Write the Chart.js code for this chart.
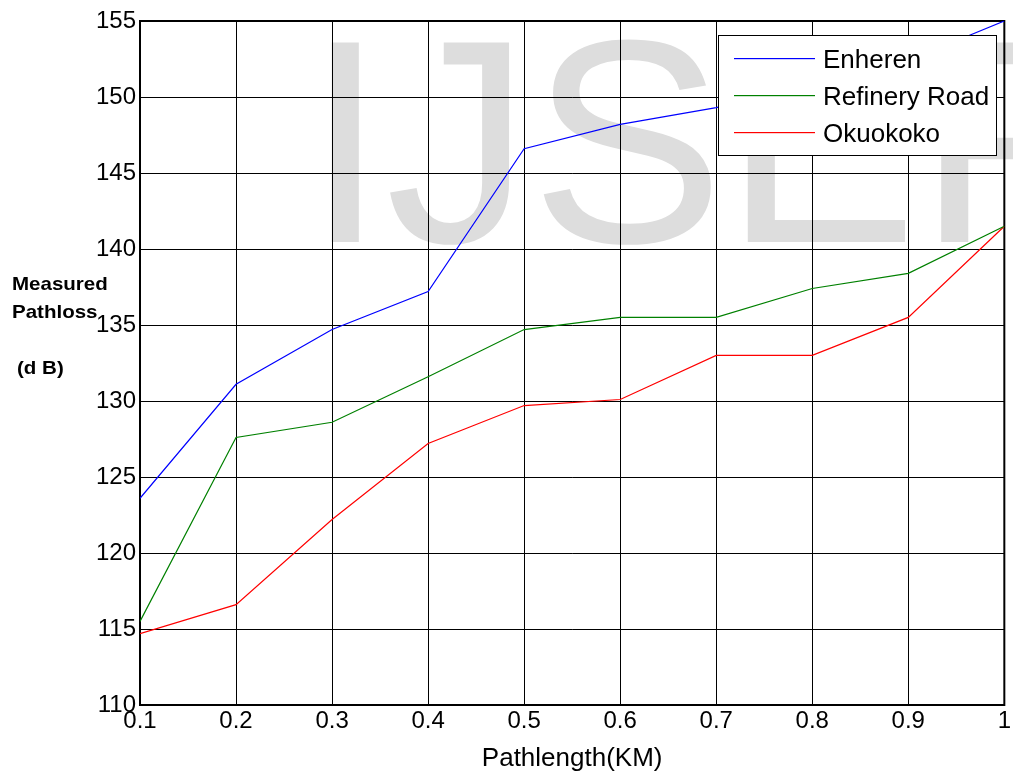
<!DOCTYPE html>
<html>
<head>
<meta charset="utf-8">
<script src="https://cdn.jsdelivr.net/npm/chart.js@4"></script>
<style>
  html, body { margin: 0; padding: 0; background: #fff; }
  #wrap { width: 1013px; height: 778px; position: relative; }
</style>
</head>
<body>
<div id="wrap"><canvas id="myChart"></canvas></div>
<script>
// path length (km)
const pathLength = [0.1, 0.2, 0.3, 0.4, 0.5, 0.6, 0.7, 0.8, 0.9, 1.0];
const enheren = [123.6, 131.1, 134.7, 137.2, 146.6, 148.2, 149.3, 150.8, 152.4, 155.0];
const refineryRoad = [115.5, 127.6, 128.6, 131.6, 134.7, 135.5, 135.5, 137.4, 138.4, 141.5];
const okuokoko = [114.7, 116.6, 122.2, 127.2, 129.7, 130.1, 133.0, 133.0, 135.5, 141.5];

const seriesNames = ['Enheren', 'Refinery Road', 'Okuokoko'];
const seriesColors = ['#0000ff', '#008000', '#ff0000'];
const FONT = '"Liberation Sans", Arial, sans-serif';

function pts(vals) {
    return pathLength.map((x, i) => ({ x: x, y: vals[i] }));
}

// watermark + grid, drawn under the lines
const background = {
    id: 'background',
    beforeDatasetsDraw(chart) {
        const c = chart.ctx;
        const a = chart.chartArea;
        const xs = chart.scales.x, ys = chart.scales.y;
        c.save();
        c.fillStyle = '#dddddd';
        c.font = '290px ' + FONT;
        c.textBaseline = 'alphabetic';
        c.fillText('IJSER', 305, 242);

        c.strokeStyle = '#000';
        c.lineWidth = 1;
        c.beginPath();
        pathLength.forEach(v => {
            const px = Math.round(xs.getPixelForValue(v)) + 0.5;
            c.moveTo(px, a.top); c.lineTo(px, a.bottom);
        });
        for (let v = 110; v <= 155; v += 5) {
            const py = Math.round(ys.getPixelForValue(v)) + 0.5;
            c.moveTo(a.left, py); c.lineTo(a.right, py);
        }
        c.stroke();
        c.lineWidth = 2;
        c.strokeRect(a.left, a.top, a.right - a.left, a.bottom - a.top);
        c.restore();
    }
};

// legend box and y label
const extras = {
    id: 'extras',
    afterDraw(chart) {
        const c = chart.ctx;
        c.save();
        c.fillStyle = '#fff';
        c.fillRect(718, 35, 278, 120);
        c.strokeStyle = '#000';
        c.lineWidth = 1;
        c.strokeRect(718.5, 35.5, 278, 120);
        c.font = '26px ' + FONT;
        c.textBaseline = 'alphabetic';
        seriesNames.forEach((n, i) => {
            const y = 58 + i * 37;
            c.fillStyle = seriesColors[i];
            c.fillRect(734, y, 81, 1.2);
            c.fillStyle = '#000';
            c.fillText(n, 823, y + 10);
        });
        c.font = 'bold 19px ' + FONT;
        c.fillStyle = '#000';
        c.save();
        c.scale(1.08, 1);
        c.fillText('Measured', 12 / 1.08, 290);
        c.fillText('Pathloss', 12 / 1.08, 318);
        c.fillText('(d B)', 17 / 1.08, 374);
        c.restore();
        c.restore();
    }
};

const ctx = document.getElementById('myChart').getContext('2d');
const myChart = new Chart(ctx, {
    type: 'line',
    data: {
        datasets: seriesNames.map((n, i) => ({
            label: n,
            data: pts([enheren, refineryRoad, okuokoko][i]),
            borderColor: seriesColors[i],
            backgroundColor: seriesColors[i],
            borderWidth: 1.2,
            pointRadius: 0,
            tension: 0,
            fill: false
        }))
    },
    options: {
        responsive: true,
        maintainAspectRatio: false,
        animation: false,
        layout: { padding: { top: 21, right: 5, left: 0, bottom: 0 } },
        plugins: {
            legend: { display: false },
            tooltip: { enabled: false }
        },
        scales: {
            x: {
                type: 'linear',
                min: 0.1,
                max: 1,
                afterBuildTicks: s => { s.ticks = pathLength.map(v => ({ value: v })); },
                afterFit: s => { s.height = 73; },
                grid: { display: false, drawTicks: false },
                border: { display: false },
                ticks: {
                    color: '#000',
                    padding: 2,
                    maxRotation: 0,
                    font: { size: 24, family: FONT },
                    callback: v => String(+v.toFixed(1))
                },
                title: {
                    display: true,
                    text: 'Pathlength(KM)',
                    color: '#000',
                    padding: { top: 4 },
                    font: { size: 26, family: FONT }
                }
            },
            y: {
                min: 110,
                max: 155,
                afterFit: s => { s.width = 140; },
                grid: { display: false, drawTicks: false },
                border: { display: false },
                ticks: {
                    stepSize: 5,
                    color: '#000',
                    padding: 4,
                    font: { size: 24, family: FONT }
                }
            }
        }
    },
    plugins: [background, extras]
});
</script>
</body>
</html>
